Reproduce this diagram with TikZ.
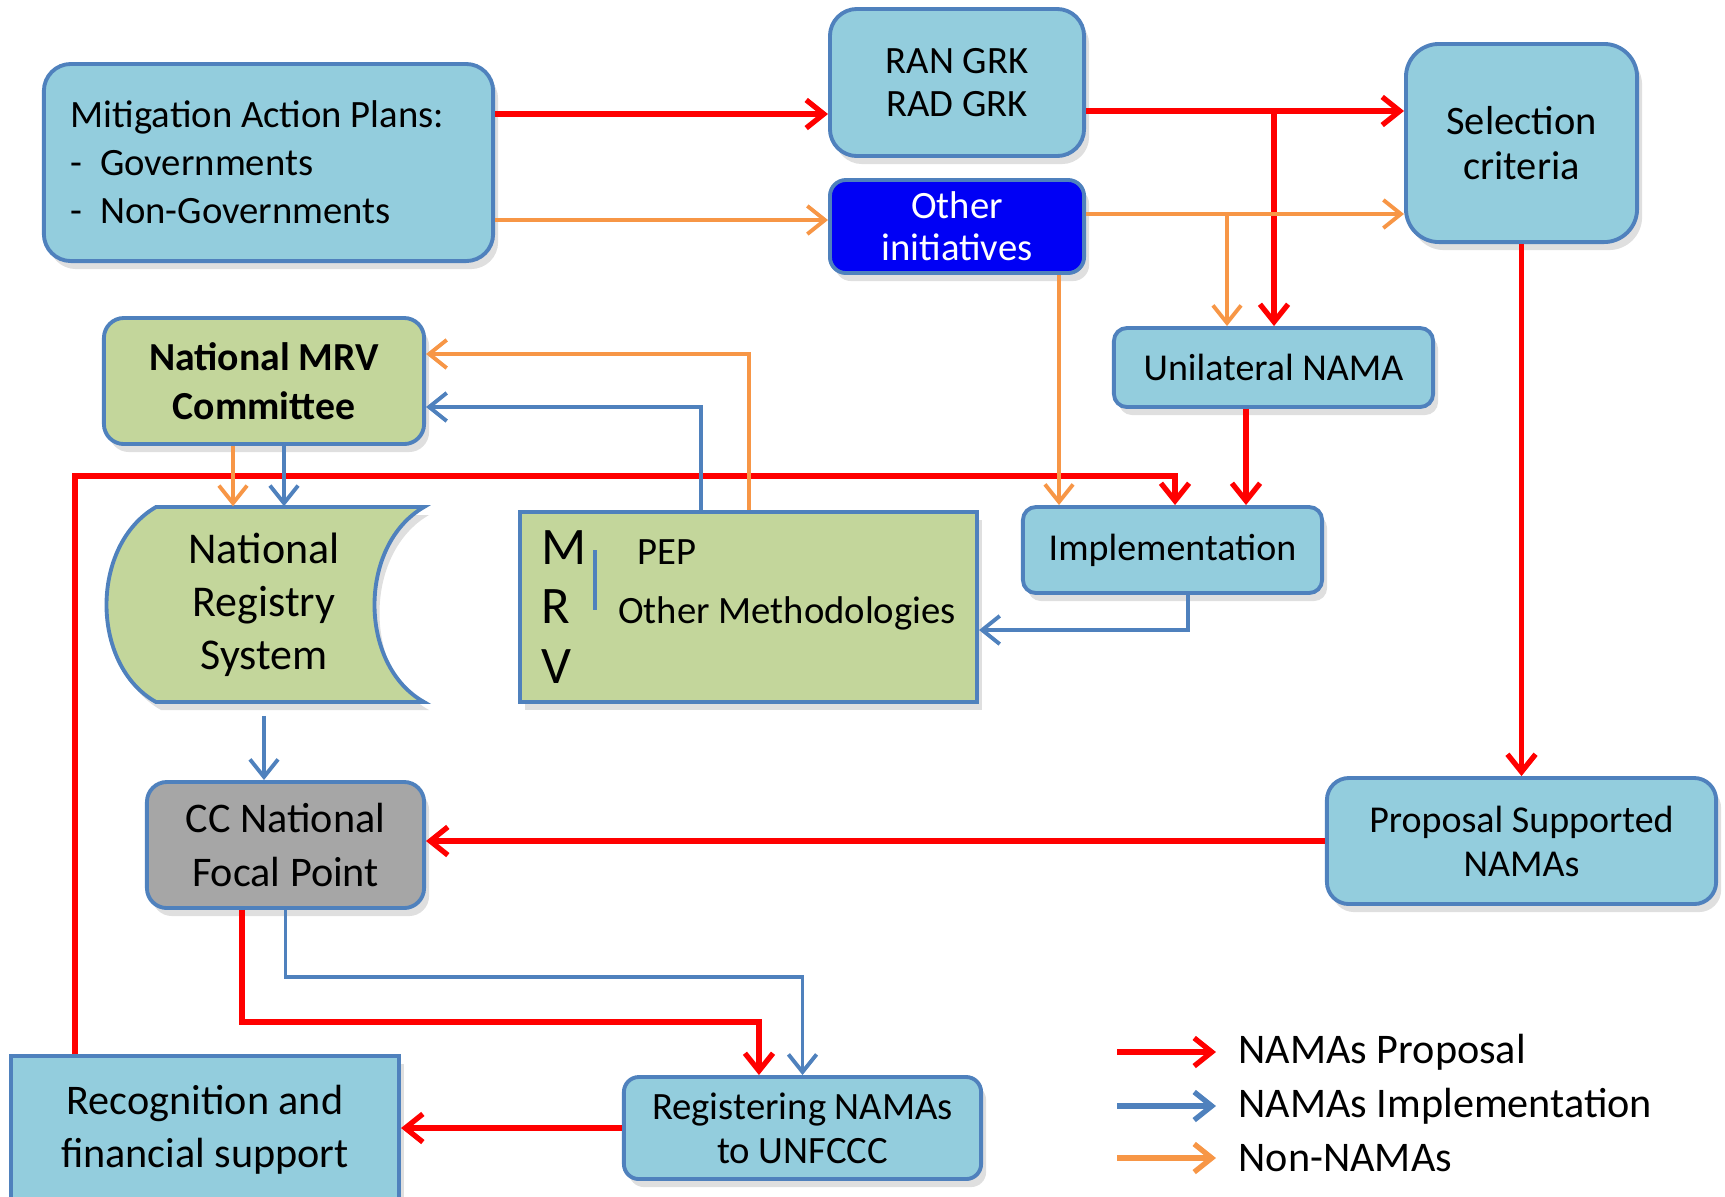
\documentclass[tikz,border=0pt]{standalone}
\usepackage{fontspec}
\setmainfont{Carlito}
\usetikzlibrary{arrows.meta, positioning, calc, shadows}

\definecolor{boxblue}{RGB}{147,205,221}
\definecolor{boxline}{RGB}{79,129,189}
\definecolor{mrvgreen}{RGB}{195,214,155}
\definecolor{ccgray}{RGB}{166,166,166}
\definecolor{initblue}{RGB}{0,0,245}
\definecolor{linkred}{RGB}{255,0,0}
\definecolor{linkblue}{RGB}{79,129,189}
\definecolor{linkorange}{RGB}{247,150,70}

\tikzset{
  softshadow/.style={drop shadow={opacity=0.25, shadow xshift=0.5mm, shadow yshift=-0.8mm}},
  bluebox/.style={draw=boxline, line width=1.1pt, fill=boxblue, align=center, inner sep=0pt, softshadow},
  greenbox/.style={bluebox, fill=mrvgreen},
  graybox/.style={bluebox, fill=ccgray},
  redarr/.style={draw=linkred, line width=1.5pt, -{Straight Barb[length=5pt,width=8pt]}},
  bluearr/.style={draw=linkblue, line width=1.1pt, -{Straight Barb[length=5pt,width=8pt]}},
  orangearr/.style={draw=linkorange, line width=1.1pt, -{Straight Barb[length=5pt,width=8pt]}},
  legtext/.style={anchor=west, inner sep=0pt, font=\fontsize{12}{14}\selectfont},
}

\begin{document}
\begin{tikzpicture}[x=0.01cm, y=-0.01cm]
  \useasboundingbox (0,0) rectangle (1725,1196);

  % National Registry shape (stored data)
  \draw[boxline, line width=1.1pt, fill=mrvgreen, softshadow]
    (156,507) -- (424,507) .. controls (358,545) and (358,665) .. (424,702)
    -- (156,702) .. controls (90,665) and (90,545) .. cycle;

  % Boxes
  \node[bluebox, rounded corners=0.27cm, minimum width=4.49cm, minimum height=1.97cm,
        text width=3.95cm, align=flush left, font=\fontsize{11}{13.7}\selectfont] (mit) at (268.5,162.5)
        {Mitigation Action Plans:\\- \ Governments\\- \ Non-Governments};
  \node[bluebox, rounded corners=0.27cm, minimum width=2.54cm, minimum height=1.47cm,
        font=\fontsize{11}{12}\selectfont] (ran) at (957,82.5) {RAN GRK\\RAD GRK};
  \node[bluebox, fill=initblue, text=white, rounded corners=0.16cm, minimum width=2.54cm,
        minimum height=0.93cm, font=\fontsize{11}{12}\selectfont] (oth) at (957,226.5)
        {Other\\initiatives};
  \node[bluebox, rounded corners=0.33cm, minimum width=2.31cm, minimum height=1.98cm,
        font=\fontsize{11.5}{12.8}\selectfont] (sel) at (1521.5,143) {Selection\\criteria};
  \node[bluebox, rounded corners=0.13cm, minimum width=3.19cm, minimum height=0.79cm,
        font=\fontsize{10.8}{12}\selectfont] (uni) at (1273.5,367.5) {Unilateral NAMA};
  \node[greenbox, rounded corners=0.2cm, minimum width=3.2cm, minimum height=1.26cm,
        font=\fontsize{11.3}{13.9}\selectfont\bfseries] (mrvc) at (264,381)
        {National MRV\\Committee};
  \node[inner sep=0pt, minimum width=3.2cm, minimum height=1.95cm, align=center,
        font=\fontsize{12.5}{15.1}\selectfont] (reg) at (264,604.5)
        {National\\Registry\\System};
  \node[greenbox, minimum width=4.57cm, minimum height=1.9cm,
        align=left, font=\fontsize{11}{16.8}\selectfont] (mrv) at (748.5,607)
        {\makebox[0.96cm][l]{\fontsize{15}{16.8}\selectfont M}PEP\\
         \makebox[0.77cm][l]{\fontsize{15}{16.8}\selectfont R}Other Methodologies\\
         {\fontsize{15}{16.8}\selectfont V}};
  \node[bluebox, rounded corners=0.13cm, minimum width=2.99cm, minimum height=0.86cm,
        font=\fontsize{10.8}{12}\selectfont] (imp) at (1172.5,550) {Implementation};
  \node[graybox, rounded corners=0.2cm, minimum width=2.77cm, minimum height=1.26cm,
        font=\fontsize{12}{15.1}\selectfont] (cc) at (285.5,845) {CC National\\Focal Point};
  \node[bluebox, rounded corners=0.22cm, minimum width=3.89cm, minimum height=1.26cm,
        font=\fontsize{10.8}{12.5}\selectfont] (prop) at (1521.5,841)
        {Proposal Supported\\NAMAs};
  \node[bluebox, rounded corners=0.15cm, minimum width=3.57cm, minimum height=1.02cm,
        font=\fontsize{11}{12.5}\selectfont] (regn) at (802.5,1128)
        {Registering NAMAs\\to UNFCCC};
  \node[bluebox, minimum width=3.88cm, minimum height=1.48cm,
        font=\fontsize{12}{15.1}\selectfont] (rec) at (205,1130)
        {Recognition and\\financial support};

  % NAMAs proposal (red)
  \coordinate (rsplit) at (1274,111);
  \coordinate (recturn) at (75,476);
  \draw[redarr] (mit.east |- 0,114) -- (ran.west |- 0,114);
  \draw[redarr] (ran.east |- rsplit) -- (sel.west |- rsplit);
  \draw[redarr] (rsplit) -- (uni.north -| rsplit);
  \draw[redarr] (uni.south -| 1246,0) -- (imp.north -| 1246,0);
  \draw[redarr] (sel.south) -- (prop.north);
  \draw[redarr] (prop.west) -- (cc.east |- prop.west);
  \draw[redarr] (cc.south -| 242,0) -- ++(0,112) -| ([xshift=-0.435cm]regn.north);
  \draw[redarr] (regn.west) -- (rec.east |- regn.west);
  \draw[redarr] (rec.north -| recturn) -- (recturn) -| (imp.north -| 1175,0);

  % Non-NAMAs (orange)
  \coordinate (osplit) at (1227,214);
  \draw[orangearr] (mit.east |- 0,220) -- (oth.west |- 0,220);
  \draw[orangearr] (oth.east |- osplit) -- (sel.west |- osplit);
  \draw[orangearr] (osplit) -- (uni.north -| osplit);
  \draw[orangearr] (oth.south -| 1059,0) -- (imp.north -| 1059,0);
  \draw[orangearr] (mrv.north -| 749,0) |- (mrvc.east |- 0,354);
  \draw[orangearr] (mrvc.south -| 233,0) -- (reg.north -| 233,0);

  % NAMAs implementation (blue)
  \draw[bluearr] (imp.south -| 1188,0) |- (mrv.east |- 0,630);
  \draw[bluearr] (mrv.north -| 701,0) |- (mrvc.east |- 0,407);
  \draw[bluearr] (mrvc.south -| 284,0) -- (reg.north -| 284,0);
  \draw[bluearr, shorten <=0.13cm] (reg.south) -- (cc.north -| reg.south);
  \draw[bluearr] (cc.south) -- ++(0,67) -| (regn.north);
  \draw[linkblue, line width=1.3pt] (595,550) -- (595,610);

  % Legend
  \node[legtext] (lgred) at (1238,1052) {NAMAs Proposal};
  \node[legtext] (lgblue) at (1238,1106) {NAMAs Implementation};
  \node[legtext] (lgorange) at (1238,1158) {Non-NAMAs};
  \draw[redarr] (lgred.west -| 1117,0) -- ([xshift=-0.22cm]lgred.west);
  \draw[bluearr, line width=1.5pt] (lgblue.west -| 1117,0) -- ([xshift=-0.22cm]lgblue.west);
  \draw[orangearr, line width=1.5pt] (lgorange.west -| 1117,0) -- ([xshift=-0.22cm]lgorange.west);
\end{tikzpicture}
\end{document}
